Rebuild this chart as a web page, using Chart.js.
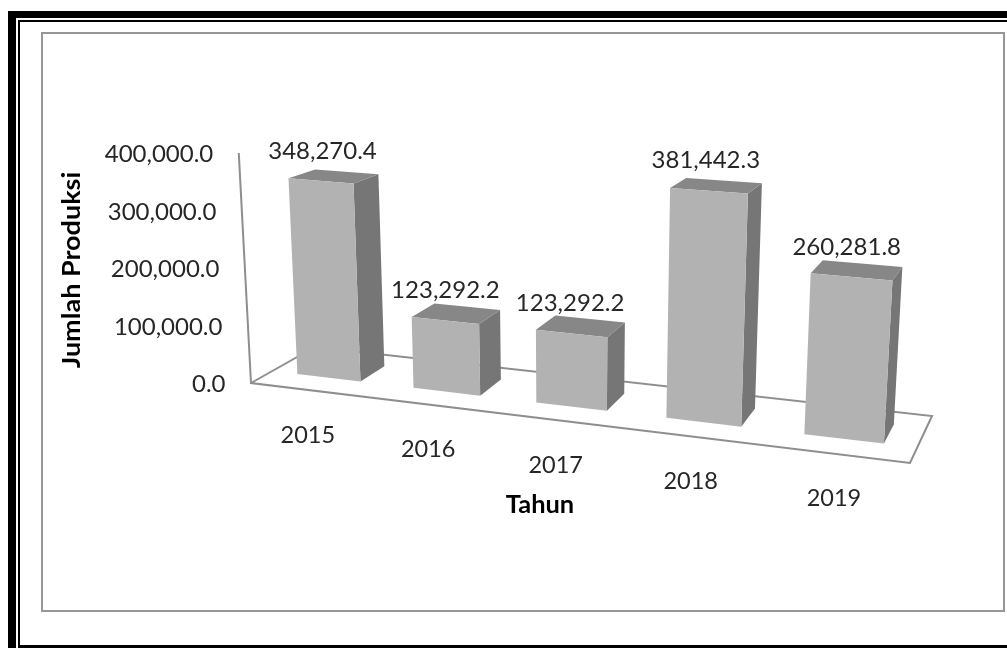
<!DOCTYPE html>
<html>
<head>
<meta charset="utf-8">
<style>html,body{margin:0;padding:0;background:#fff;overflow:hidden}canvas{display:block}</style>
<script src="https://cdn.jsdelivr.net/npm/chart.js@4"></script>
</head>
<body>
<canvas id="c" width="1007" height="648"></canvas>
<script>
const years = ['2015', '2016', '2017', '2018', '2019'];
const produksi = [348270.4, 123292.2, 123292.2, 381442.3, 260281.8];
const yTitle = 'Jumlah Produksi';
const xTitle = 'Tahun';
const yMax = 400000;
const yStep = 100000;

const fmt = v => Number(v).toLocaleString('en-US', {minimumFractionDigits: 1, maximumFractionDigits: 1});

// perspective view of the flat chart
const G = 0.135, D0 = 0.33, D1 = 0.74;
function floorPt(u, d) {
  const s = u * (1 - G) / (1 - G * u);
  const fx0 = 251 + 659 * s, fy0 = 383 + 80 * s;
  const bx0 = 315 + 617 * s, by0 = 347 + 69 * s;
  return [fx0 + (bx0 - fx0) * d, fy0 + (by0 - fy0) * d];
}
function project(u, v, d) {
  const [fx, fy] = floorPt(u, d);
  const S = (56.2 + 0.011 * (fx - 296)) * (1 - 0.0875 * (d - D0));
  const H = S * v;
  return [fx + H * (fx - 570) / 6000, fy - H];
}
function axisPt(v) {
  const [fx, fy] = floorPt(0, 0);
  const H = 57.5 * v;
  return [fx + H * (fx - 570) / 6000, fy - H];
}
function poly(ctx, pts, fill) {
  ctx.beginPath();
  pts.forEach((p, i) => i ? ctx.lineTo(p[0], p[1]) : ctx.moveTo(p[0], p[1]));
  ctx.closePath();
  ctx.fillStyle = fill;
  ctx.fill();
}
function text(ctx, str, x, y, font, color, sx, rot) {
  ctx.save();
  ctx.translate(x, y);
  if (rot) ctx.rotate(rot);
  ctx.scale(sx, 1);
  ctx.font = font;
  ctx.fillStyle = color;
  ctx.textAlign = 'center';
  ctx.textBaseline = 'middle';
  ctx.fillText(str, 0, 0);
  ctx.restore();
}

const scene = {
  id: 'scene',
  beforeDraw(chart) {
    const ctx = chart.ctx;
    ctx.save();
    ctx.fillStyle = '#fff';
    ctx.fillRect(0, 0, 1007, 648);
    ctx.fillStyle = '#000';
    ctx.fillRect(8, 11, 999, 7);
    ctx.fillRect(8, 11, 8, 637);
    ctx.fillRect(18, 20, 989, 2);
    ctx.fillRect(18, 20, 2, 628);
    ctx.fillRect(18, 645, 989, 3);
    ctx.strokeStyle = '#969696';
    ctx.lineWidth = 2;
    ctx.strokeRect(42, 33, 962, 578);
    ctx.restore();
  },
  beforeDatasetsDraw(chart) {
    const ctx = chart.ctx, area = chart.chartArea;
    const xs = chart.scales.x, ys = chart.scales.y;
    const U = px => (px - area.left) / area.width;
    ctx.save();
    ctx.lineJoin = 'miter';
    // floor and value axis
    ctx.strokeStyle = '#8e8e8e';
    ctx.lineWidth = 2;
    const a = axisPt(yMax / yStep);
    const fl = floorPt(0, 0), fr = floorPt(1, 0), br = floorPt(1, 1), bl = floorPt(0, 1);
    ctx.beginPath();
    ctx.moveTo(a[0], a[1]);
    ctx.lineTo(fl[0], fl[1]);
    ctx.lineTo(fr[0], fr[1]);
    ctx.lineTo(br[0], br[1]);
    ctx.lineTo(bl[0], bl[1]);
    ctx.lineTo(fl[0], fl[1]);
    ctx.stroke();

    // bars
    const ds = chart.data.datasets[0];
    chart.getDatasetMeta(0).data.forEach((bar, i) => {
      const u0 = U(bar.x - bar.width / 2), u1 = U(bar.x + bar.width / 2);
      const v = ys.getValueForPixel(bar.y) / yStep;
      const fTL = project(u0, v, D0), fTR = project(u1, v, D0);
      const fBL = project(u0, 0, D0), fBR = project(u1, 0, D0);
      const bTL = project(u0, v, D1), bTR = project(u1, v, D1), bBR = project(u1, 0, D1);
      poly(ctx, [fTR, bTR, bBR, fBR], ds.sideColor);
      poly(ctx, [fTL, bTL, bTR, fTR], ds.topColor);
      poly(ctx, [fTL, fTR, fBR, fBL], ds.backgroundColor);
      const cx = (fTL[0] + fTR[0]) / 2, cy = (fTL[1] + fTR[1]) / 2;
      text(ctx, fmt(ds.data[i]), cx + 1.5 - (cx - 320) * 0.012, cy - 30, '24px Lato', '#262626', 1);
    });

    // value ticks
    ys.ticks.forEach(t => {
      const p = axisPt(t.value / yStep);
      const label = fmt(t.value);
      ctx.font = '24px Lato';
      const w = ctx.measureText(label).width;
      text(ctx, label, p[0] - 25.5 - w / 2, p[1] + 1.5, '24px Lato', '#262626', 1);
    });
    // category ticks
    xs.ticks.forEach((t, i) => {
      const p = floorPt(U(xs.getPixelForTick(i)), 0);
      text(ctx, xs.getLabelForValue(t.value), p[0] - 1, p[1] + 45, '23.5px Lato', '#262626', 1);
    });
    // axis titles
    text(ctx, ys.options.title.text, 72, 270, 'bold 25px Lato', '#000', 1.08, -Math.PI / 2);
    text(ctx, xs.options.title.text, 540, 505, 'bold 24px Lato', '#000', 1.06);
    ctx.restore();
    return false;
  }
};

new Chart(document.getElementById('c'), {
  type: 'bar',
  data: {
    labels: years,
    datasets: [{
      label: yTitle,
      data: produksi,
      backgroundColor: '#b2b2b2',
      topColor: '#878787',
      sideColor: '#767676',
      categoryPercentage: 0.55,
      barPercentage: 1
    }]
  },
  options: {
    responsive: false,
    animation: false,
    layout: {padding: {left: 60, right: 60, top: 60, bottom: 60}},
    plugins: {legend: {display: false}, tooltip: {enabled: false}, title: {display: false}},
    scales: {
      x: {display: false, title: {text: xTitle}},
      y: {display: false, min: 0, max: yMax, ticks: {stepSize: yStep}, title: {text: yTitle}}
    }
  },
  plugins: [scene]
});
</script>
</body>
</html>
